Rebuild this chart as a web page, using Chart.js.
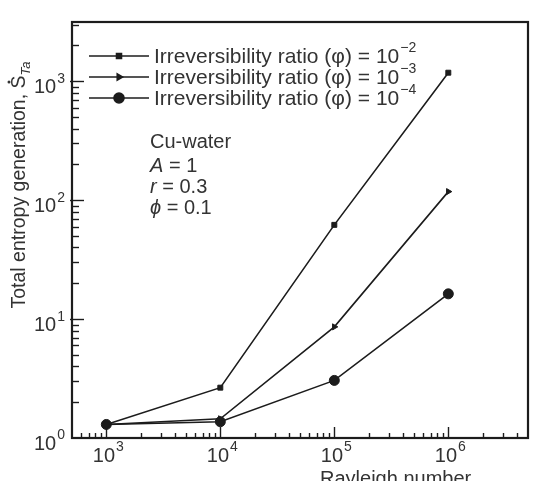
<!DOCTYPE html>
<html>
<head>
<meta charset="utf-8">
<script src="https://cdn.jsdelivr.net/npm/chart.js@4.4.1/dist/chart.umd.min.js"></script>
<style>
html,body{margin:0;padding:0;background:#fff;}
#wrap{width:551px;height:481px;position:relative;}
</style>
</head>
<body>
<div id="wrap"><canvas id="c" width="551" height="481"></canvas></div>
<script>
// ---- data ----
const rayleigh = [1e3, 1e4, 1e5, 1e6];
const phiExponents = ['\u22122', '\u22123', '\u22124'];
const legendPrefix = 'Irreversibility ratio (\u03c6) = 10';
const entropyPhi1e2 = [1.3, 2.65, 62, 1180];
const entropyPhi1e3 = [1.3, 1.45, 8.6, 118];
const entropyPhi1e4 = [1.3, 1.37, 3.05, 16.3];
const xTickExps = [3, 4, 5, 6];
const yTickExps = [0, 1, 2, 3];
const xTitle = 'Rayleigh number';
const yTitleMain = 'Total entropy generation, ';
const yTitleSym = 'S';
const yTitleSub = 'Ta';
const noteLines = [
  [['Cu-water', false]],
  [['A', true], [' = 1', false]],
  [['r', true], [' = 0.3', false]],
  [['\u03d5', true], [' = 0.1', false]]
];

const seriesValues = [entropyPhi1e2, entropyPhi1e3, entropyPhi1e4];
const pointStyles = ['rect', 'triangle', 'circle'];
const pointRadii = [3.5, 3.5, 5];
const pointRots = [0, 90, 0];
const INK = '#1c1c1c';
const TXT = '#333333';
const FONT = '"Liberation Sans", Arial, sans-serif';

const datasets = seriesValues.map((vals, i) => ({
  label: legendPrefix + phiExponents[i],
  data: rayleigh.map((x, j) => ({x: x, y: vals[j]})),
  borderColor: INK,
  backgroundColor: INK,
  borderWidth: 1.6,
  pointStyle: pointStyles[i],
  pointRadius: pointRadii[i],
  pointRotation: pointRots[i],
  pointBackgroundColor: INK,
  pointBorderColor: INK,
  pointBorderWidth: 1,
  tension: 0
}));

function drawPow(ctx, base, exp, x, y, size, align) {
  ctx.font = size + 'px ' + FONT;
  const wb = ctx.measureText(base).width;
  const es = Math.round(size * 0.68);
  ctx.font = es + 'px ' + FONT;
  const we = ctx.measureText(exp).width;
  const tot = wb + we + 1;
  let x0 = x;
  if (align === 'center') x0 = x - tot / 2;
  else if (align === 'right') x0 = x - tot;
  ctx.textAlign = 'left';
  ctx.textBaseline = 'middle';
  ctx.font = size + 'px ' + FONT;
  ctx.fillText(base, x0, y);
  ctx.font = es + 'px ' + FONT;
  ctx.fillText(exp, x0 + wb + 1, y - size * 0.42);
  return tot;
}

const decor = {
  id: 'decor',
  afterDatasetsDraw(chart) {
    const ctx = chart.ctx;
    const xs = chart.scales.x, ys = chart.scales.y;
    const a = chart.chartArea;
    ctx.save();
    // ticks
    ctx.strokeStyle = INK;
    ctx.lineWidth = 1.4;
    for (let d = 2; d <= 6; d++) {
      for (let m = 1; m <= 9; m++) {
        const v = m * Math.pow(10, d);
        if (v <= xs.min || v >= xs.max) continue;
        const px = Math.round(xs.getPixelForValue(v)) + 0.5;
        const len = m === 1 ? 11 : 5;
        ctx.beginPath(); ctx.moveTo(px, a.bottom); ctx.lineTo(px, a.bottom - len); ctx.stroke();
      }
    }
    for (let d = 0; d <= 3; d++) {
      for (let m = 1; m <= 9; m++) {
        const v = m * Math.pow(10, d);
        if (v <= ys.min || v >= ys.max) continue;
        const py = Math.round(ys.getPixelForValue(v)) + 0.5;
        const len = m === 1 ? 12 : 7;
        ctx.beginPath(); ctx.moveTo(a.left - (m === 1 ? 2 : 0), py); ctx.lineTo(a.left + len, py); ctx.stroke();
      }
    }
    // frame
    ctx.lineWidth = 2.2;
    ctx.strokeRect(a.left, a.top, a.right - a.left, a.bottom - a.top);
    // tick labels
    ctx.fillStyle = TXT;
    xTickExps.forEach(e => {
      const px = xs.getPixelForValue(Math.pow(10, e));
      drawPow(ctx, '10', String(e), px + 2, 456, 20, 'center');
    });
    yTickExps.forEach(e => {
      const py = ys.getPixelForValue(Math.pow(10, e));
      drawPow(ctx, '10', String(e), 65, py + 6, 20, 'right');
    });
    // x title
    ctx.font = '20px ' + FONT;
    ctx.textAlign = 'left';
    ctx.textBaseline = 'alphabetic';
    ctx.fillText(xTitle, 320, 485);
    // y title
    ctx.save();
    ctx.translate(20, 185);
    ctx.rotate(-Math.PI / 2);
    ctx.font = '19.5px ' + FONT;
    const w1 = ctx.measureText(yTitleMain).width;
    const w2 = ctx.measureText(yTitleSym).width;
    ctx.font = 'italic 13px ' + FONT;
    const w3 = ctx.measureText(yTitleSub).width;
    const tot = w1 + w2 + w3;
    let x0 = -tot / 2;
    ctx.textAlign = 'left';
    ctx.textBaseline = 'middle';
    ctx.font = '19.5px ' + FONT;
    ctx.fillText(yTitleMain, x0, 0);
    ctx.fillText(yTitleSym, x0 + w1, 0);
    ctx.beginPath();
    ctx.arc(x0 + w1 + w2 / 2, -11, 1.5, 0, Math.PI * 2);
    ctx.fill();
    ctx.font = 'italic 13px ' + FONT;
    ctx.fillText(yTitleSub, x0 + w1 + w2, 6);
    ctx.restore();
    // legend
    chart.data.datasets.forEach((ds, i) => {
      const y = 56 + 21 * i;
      ctx.strokeStyle = INK;
      ctx.lineWidth = 1.6;
      ctx.beginPath(); ctx.moveTo(89, y); ctx.lineTo(149, y); ctx.stroke();
      ctx.fillStyle = INK;
      Chart.helpers.drawPoint(ctx, {pointStyle: ds.pointStyle, radius: ds.pointRadius, rotation: ds.pointRotation, borderWidth: 1}, 119, y);
      ctx.fillStyle = TXT;
      drawPow(ctx, legendPrefix, phiExponents[i], 154, y + 1, 21, 'left');
    });
    // notes
    const noteY = [142, 166, 187, 208];
    noteLines.forEach((parts, i) => {
      let x = 150;
      parts.forEach(([t, it]) => {
        ctx.font = (it ? 'italic ' : '') + '20px ' + FONT;
        ctx.textAlign = 'left';
        ctx.textBaseline = 'middle';
        ctx.fillText(t, x, noteY[i]);
        x += ctx.measureText(t).width;
      });
    });
    ctx.restore();
  }
};

new Chart(document.getElementById('c'), {
  type: 'line',
  data: {datasets: datasets},
  options: {
    responsive: false,
    animation: false,
    layout: {padding: {left: 72, top: 22, right: 23, bottom: 43}},
    scales: {
      x: {type: 'logarithmic', min: 500, max: 5e6, display: false},
      y: {type: 'logarithmic', min: 1, max: 3150, display: false}
    },
    plugins: {legend: {display: false}, tooltip: {enabled: false}}
  },
  plugins: [decor]
});
</script>
</body>
</html>
